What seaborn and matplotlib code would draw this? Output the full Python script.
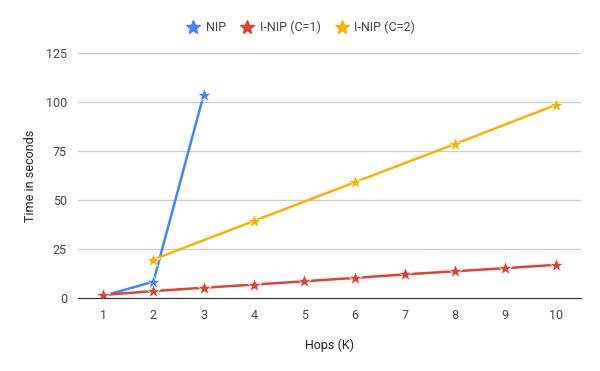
import matplotlib
matplotlib.use("Agg")
import matplotlib.pyplot as plt
import seaborn as sns
import pandas as pd

hops_nip = [1, 2, 3]
nip = [1.0, 8.3, 103.8]
hops_c1 = [1, 2, 3, 4, 5, 6, 7, 8, 9, 10]
inip_c1 = [1.5, 3.5, 5.2, 6.8, 8.5, 10.2, 12.0, 13.6, 15.2, 16.9]
hops_c2 = [2, 4, 6, 8, 10]
inip_c2 = [19.6, 39.3, 59.0, 78.6, 98.5]
series = ["NIP", "I-NIP (C=1)", "I-NIP (C=2)"]
colors = ["#4285f4", "#db4437", "#f4b400"]
yticks = [0, 25, 50, 75, 100, 125]

df = pd.concat([
    pd.DataFrame({"hops": hops_nip, "time": nip, "series": series[0]}),
    pd.DataFrame({"hops": hops_c1, "time": inip_c1, "series": series[1]}),
    pd.DataFrame({"hops": hops_c2, "time": inip_c2, "series": series[2]}),
])

sns.set_style("white")
plt.rcParams["font.family"] = ["Roboto", "DejaVu Sans"]

fig = plt.figure(figsize=(6, 3.71), dpi=100)
ax = fig.add_axes([0.13, 0.197, 0.838, 0.66])
sns.lineplot(data=df, x="hops", y="time", hue="series", hue_order=series,
             palette=colors, marker="*", markersize=10, markeredgewidth=0.5,
             linewidth=1.8, ax=ax, legend=False)
ax.set_xlim(0.5, 10.5)
ax.set_ylim(0, 125)
ax.set_yticks(yticks)
ax.set_xticks(hops_c1)
ax.grid(axis="y", color="#cccccc", linewidth=1)
ax.set_axisbelow(True)
for s in ["top", "right", "left"]:
    ax.spines[s].set_visible(False)
ax.spines["bottom"].set_color("#333333")
ax.tick_params(axis="both", length=0, labelsize=9, colors="#444444", pad=8)
ax.set_xlabel("Hops (K)", fontsize=9, color="#222222", labelpad=12)
ax.set_ylabel("Time in seconds", fontsize=9, color="#222222", labelpad=6)

handles = [plt.Line2D([], [], color=c, marker="*", linestyle="none", markersize=10)
           for c in colors]
fig.legend(handles, series, loc="upper center", bbox_to_anchor=(0.5, 0.975), ncol=3,
           frameon=False, fontsize=9, labelcolor="#444444", handletextpad=0.3,
           handlelength=1.4, columnspacing=1.0)
fig.savefig("out.png", dpi=100)
